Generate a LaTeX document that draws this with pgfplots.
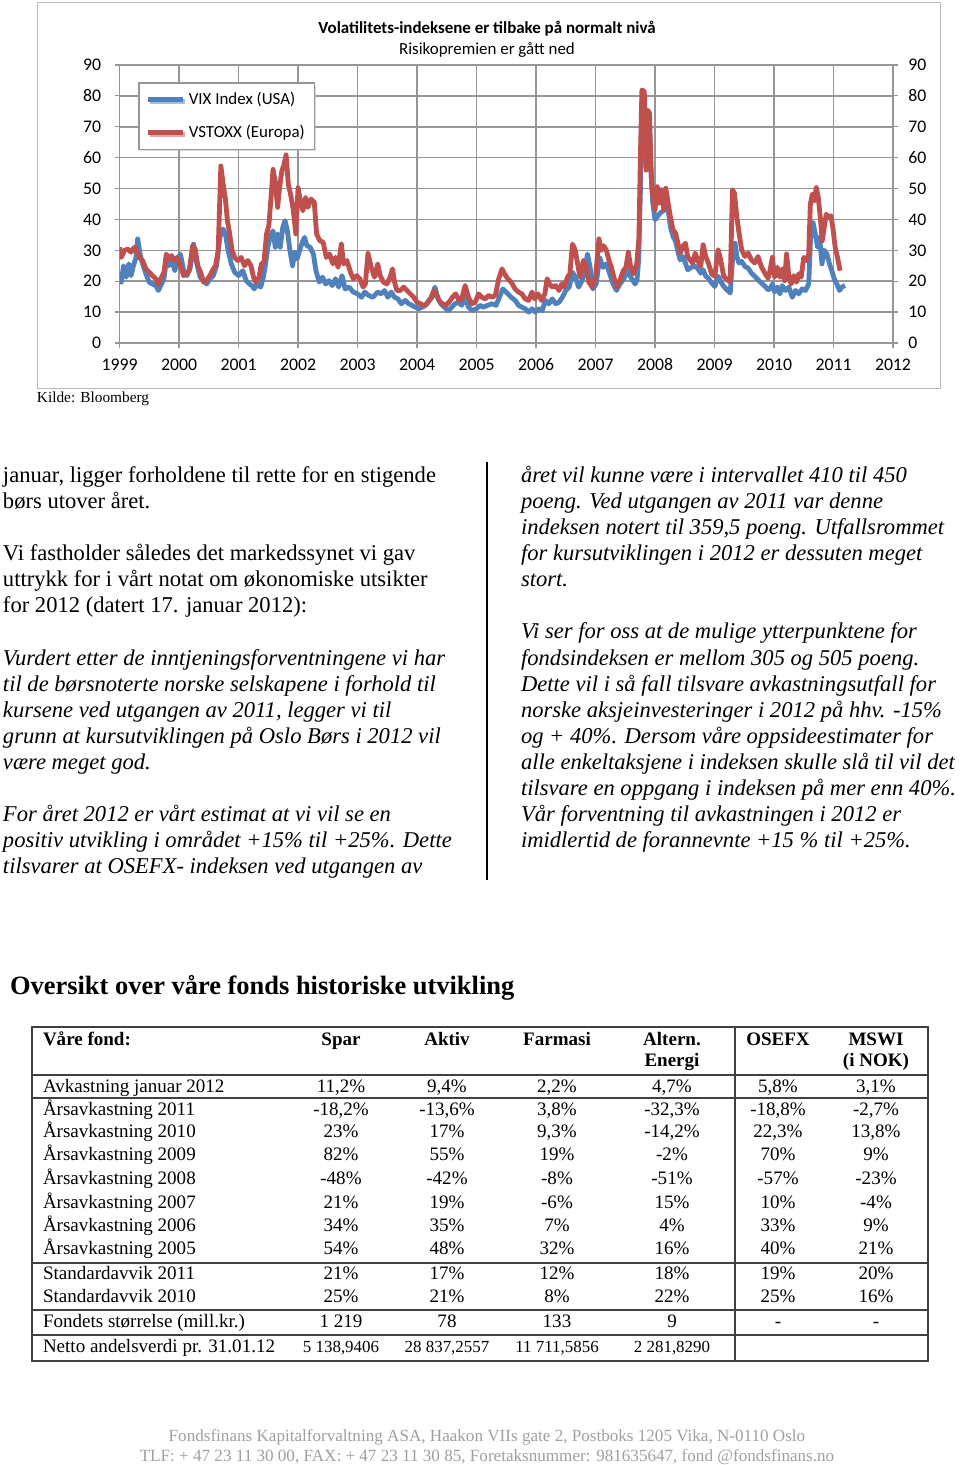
\documentclass[border=0pt]{standalone}
\usepackage{fontspec}
\setmainfont{Liberation Serif}
\newfontfamily\chartfont{Carlito}
\usepackage{pgfplots}
\pgfplotsset{compat=1.18}
\usepackage{pgfplotstable}
\usetikzlibrary{shadows}
\definecolor{vixblue}{HTML}{4F81BD}
\definecolor{vsred}{HTML}{C0504D}
\definecolor{gridgray}{HTML}{969696}

\pgfplotstableread{
x y
1999.000 22.4
1999.028 19.7
1999.066 25
1999.110 21.3
1999.155 25.6
1999.193 21.8
1999.232 25
1999.276 27.7
1999.304 33.7
1999.343 28.8
1999.387 25.6
1999.442 22.4
1999.497 19.7
1999.552 19.1
1999.608 18.6
1999.652 17
1999.691 18.6
1999.746 20.8
1999.785 26.7
1999.829 25
1999.873 27.2
1999.928 23.4
1999.967 26.7
2000.022 28.8
2000.077 23.4
2000.133 21.8
2000.188 24.5
2000.243 32
2000.298 25.6
2000.354 21.3
2000.409 20.2
2000.464 19.1
2000.519 20.8
2000.575 21.8
2000.630 25
2000.685 34.2
2000.740 36.9
2000.779 35.3
2000.823 30
2000.878 25.6
2000.934 22.9
2001.000 21.8
2001.072 23.4
2001.127 20.2
2001.182 19.1
2001.230 18.5
2001.262 17.5
2001.317 19.1
2001.372 18.1
2001.415 21.3
2001.454 25.6
2001.492 31
2001.536 34.7
2001.579 36.3
2001.617 31
2001.656 35.3
2001.699 31
2001.743 37.4
2001.781 39.6
2001.820 36.3
2001.863 30
2001.907 25
2001.945 29.4
2001.984 27.2
2002.027 30
2002.071 32.6
2002.109 34.2
2002.148 31.5
2002.202 31
2002.257 28.8
2002.301 23.4
2002.355 19.7
2002.410 21.3
2002.464 19.1
2002.519 20.2
2002.574 18.6
2002.628 20.8
2002.683 18.1
2002.738 21.8
2002.792 17.5
2002.858 18.1
2002.929 16.5
2003.000 15.9
2003.066 14.8
2003.120 16.5
2003.186 15.4
2003.257 14.8
2003.339 16.5
2003.396 15.9
2003.452 17
2003.509 14.8
2003.565 16.5
2003.622 14.8
2003.678 14.3
2003.735 12.7
2003.802 13.8
2003.859 12.7
2003.915 12.2
2003.972 11.6
2004.028 11.1
2004.085 11.6
2004.141 12.2
2004.198 13.8
2004.254 14.8
2004.300 18.1
2004.345 14.8
2004.401 12.7
2004.458 11.6
2004.525 10.5
2004.582 11.6
2004.638 12.7
2004.695 13.2
2004.751 12.2
2004.808 14.8
2004.864 11.6
2004.932 10.5
2005.000 11.1
2005.056 12.2
2005.113 11.6
2005.186 12.2
2005.260 12.7
2005.328 12.2
2005.384 14.8
2005.441 17.5
2005.497 16.5
2005.582 14.8
2005.648 13.8
2005.705 12.2
2005.761 11.6
2005.818 11.1
2005.875 10
2005.932 11.1
2005.989 10
2006.045 11.1
2006.102 10.5
2006.159 13.8
2006.216 12.7
2006.273 14.3
2006.330 12.7
2006.386 13.2
2006.443 14.8
2006.500 17
2006.557 18.1
2006.613 22.9
2006.659 21.3
2006.716 18.1
2006.773 20.2
2006.818 23.4
2006.864 28.8
2006.909 24.5
2006.955 17.5
2007.011 19.1
2007.068 27.7
2007.125 24.5
2007.182 25.6
2007.238 22.4
2007.295 19.1
2007.352 17
2007.409 19.1
2007.477 20.8
2007.534 23.4
2007.591 21.3
2007.665 19.1
2007.698 20.5
2007.725 26.9
2007.753 48.5
2007.780 78.7
2007.819 79.7
2007.852 56
2007.874 70
2007.907 70
2007.929 57.1
2007.962 45.3
2008.000 39.9
2008.038 40.9
2008.082 42
2008.126 42.6
2008.165 43.1
2008.220 43.1
2008.258 37.7
2008.302 34.5
2008.346 32.9
2008.385 29.6
2008.423 26.9
2008.467 28
2008.511 25.9
2008.549 23.7
2008.588 24.2
2008.632 24.8
2008.676 24.8
2008.714 24.2
2008.769 22.6
2008.808 23.7
2008.852 21.6
2008.896 21
2008.951 19.4
2009.005 18.3
2009.060 21.6
2009.104 19.9
2009.154 18.3
2009.209 17.2
2009.264 16.2
2009.302 26.9
2009.346 32.3
2009.374 28
2009.412 25.9
2009.456 26.4
2009.511 24.8
2009.566 24.2
2009.621 22.6
2009.676 21.6
2009.731 20.5
2009.786 19.4
2009.852 18.3
2009.900 17.2
2009.933 17.5
2009.972 19.1
2010.011 16.5
2010.056 18.1
2010.100 15.9
2010.139 18.6
2010.194 17
2010.250 18.1
2010.306 14.8
2010.361 17
2010.417 15.9
2010.472 17.5
2010.528 17
2010.583 19.1
2010.622 37.4
2010.656 39
2010.694 35.3
2010.733 31
2010.767 34.2
2010.806 25.6
2010.844 30
2010.889 28.8
2010.933 25.6
2010.972 23.4
2011.011 20.8
2011.056 19.1
2011.100 17
2011.139 18.1
2011.194 18.6
}\vix

\pgfplotstableread{
x y
1999.000 31
1999.028 27.7
1999.083 30
1999.138 30.4
1999.193 29.4
1999.249 31
1999.287 30
1999.331 27.7
1999.387 26.7
1999.442 24
1999.497 22.9
1999.552 21.8
1999.608 20.8
1999.652 19
1999.691 20.8
1999.746 22.9
1999.785 28.8
1999.829 27.2
1999.873 28.3
1999.912 26.7
1999.967 27.7
2000.022 25
2000.077 21.8
2000.116 22.4
2000.171 23.4
2000.227 31.5
2000.271 30.4
2000.315 25
2000.370 22.4
2000.409 19.7
2000.464 20.4
2000.519 21.8
2000.575 24
2000.613 25
2000.657 30
2000.702 57.3
2000.740 51.4
2000.779 46.6
2000.812 39.6
2000.851 35.3
2000.890 30
2000.934 27.7
2000.989 26.7
2001.044 27.7
2001.099 25
2001.155 26.7
2001.208 25
2001.251 21.3
2001.290 19.7
2001.344 21.3
2001.383 25.6
2001.426 26.1
2001.470 35.3
2001.508 38
2001.546 47.1
2001.579 56.2
2001.617 52
2001.656 43.9
2001.689 50.3
2001.727 55.7
2001.765 57.8
2001.798 60.9
2001.836 51.4
2001.874 48.2
2001.918 43.3
2001.962 35.3
2002.000 50.3
2002.038 46
2002.082 42.8
2002.126 47.1
2002.164 43.9
2002.219 46.6
2002.273 45.5
2002.311 35.3
2002.366 33.1
2002.421 32.6
2002.475 27.7
2002.530 28.8
2002.585 25.6
2002.628 27.7
2002.672 24.5
2002.727 32
2002.765 25.6
2002.820 26.7
2002.891 22.4
2002.929 20.8
2002.984 21.8
2003.038 20.8
2003.093 18.1
2003.131 19.1
2003.175 29
2003.230 24.5
2003.284 21.3
2003.339 25.6
2003.379 21.8
2003.435 19.7
2003.492 19.1
2003.548 21.3
2003.588 24
2003.622 19.7
2003.661 17
2003.718 17
2003.774 18.1
2003.831 17
2003.887 15.9
2003.944 14.8
2004.000 13.2
2004.056 12.7
2004.113 12.2
2004.169 12.7
2004.226 14.3
2004.282 17
2004.322 15.9
2004.367 13.8
2004.424 12.7
2004.480 12.2
2004.537 13.2
2004.593 14.8
2004.650 15.9
2004.706 13.8
2004.751 14.3
2004.808 18.6
2004.864 14.8
2004.921 12.7
2004.977 13.2
2005.034 15.9
2005.090 14.8
2005.147 14.3
2005.203 15.4
2005.260 14.8
2005.316 15.4
2005.373 20.8
2005.429 24
2005.469 22.4
2005.525 20.8
2005.582 19.7
2005.648 17.5
2005.705 16.5
2005.761 15.9
2005.818 14.3
2005.875 13.8
2005.932 16.5
2005.977 14.3
2006.034 15.9
2006.091 13.8
2006.148 15.9
2006.187 20.8
2006.227 19.1
2006.273 18.1
2006.330 18.6
2006.386 17
2006.432 19.1
2006.471 18.1
2006.528 21.3
2006.568 22.4
2006.613 32
2006.659 30
2006.699 25.6
2006.739 21.3
2006.795 26.7
2006.841 24.5
2006.886 19.7
2006.943 18.1
2007.000 21.3
2007.057 33.7
2007.097 30
2007.136 31.5
2007.182 30
2007.227 26.7
2007.267 24.5
2007.307 21.3
2007.364 18.1
2007.409 20.2
2007.466 23.4
2007.511 24.5
2007.551 29.4
2007.591 24.5
2007.636 22.4
2007.693 25.6
2007.730 34.2
2007.753 59
2007.780 81.9
2007.819 81.4
2007.835 70
2007.852 56
2007.874 75.4
2007.907 74.4
2007.929 59
2007.945 50.6
2007.973 46.3
2008.000 43.1
2008.038 50.6
2008.071 45.3
2008.110 49.6
2008.148 43.1
2008.181 50.1
2008.220 45.3
2008.258 40.9
2008.302 36.6
2008.346 35.6
2008.385 32.3
2008.423 29.1
2008.467 31.3
2008.511 32.3
2008.549 28
2008.588 26.9
2008.632 25.9
2008.676 29.1
2008.714 26.9
2008.769 24.8
2008.808 31.8
2008.852 28
2008.896 25.9
2008.951 22.4
2009.005 21.6
2009.060 30.2
2009.104 26.9
2009.154 21.6
2009.209 20.5
2009.264 19.9
2009.302 49.6
2009.335 48.5
2009.374 40.9
2009.412 35.6
2009.456 30.2
2009.511 28
2009.566 29.1
2009.621 26.9
2009.676 25.9
2009.731 28
2009.786 24.8
2009.852 22.4
2009.900 21
2009.933 23.4
2009.972 27.7
2010.011 21.3
2010.056 24.5
2010.100 21.3
2010.139 24
2010.178 20.2
2010.211 28.8
2010.250 21.3
2010.289 19.1
2010.333 21.8
2010.378 19.7
2010.417 22.4
2010.456 21.3
2010.500 27.7
2010.544 26.7
2010.583 28.8
2010.611 44.9
2010.644 48.2
2010.678 46
2010.711 50.3
2010.744 47.1
2010.778 40.6
2010.811 33.1
2010.844 37.4
2010.878 41.7
2010.917 40.6
2010.956 41.2
2010.989 37.4
2011.028 31
2011.067 27.7
2011.111 23.4
}\vstoxx

\newcommand\trow[8]{%
 \node[anchor=base west] at (43,#1) {#2};
 \node[anchor=base] at (341,#1) {#3};
 \node[anchor=base] at (447,#1) {#4};
 \node[anchor=base] at (557,#1) {#5};
 \node[anchor=base] at (672,#1) {#6};
 \node[anchor=base] at (778,#1) {#7};
 \node[anchor=base] at (876,#1) {#8};}

\newcommand\chartfs{\chartfont\fontsize{10.5}{12.5}\selectfont}
\newcommand\tickfs{\chartfont\fontsize{11}{13}\selectfont}

\begin{document}
\begin{tikzpicture}
\begin{scope}[x=0.62pt,y=-0.62pt, every node/.style={inner sep=0pt, outer sep=0pt}]
\path[use as bounding box] (0,0) rectangle (960,1465);
\draw[gray!55, line width=0.6pt] (37,2) rectangle (940,388);
\coordinate (psw) at (119.6,343);
\node[anchor=base, font=\chartfs\bfseries] at (487,33) {Volatilitets-indeksene er tilbake på normalt nivå};
\node[anchor=base, font=\chartfs] at (487,54) {Risikopremien er gått ned};
\node[anchor=base west, font=\fontsize{9.5}{11}\selectfont] at (37,402) {Kilde: Bloomberg};

% text columns
\draw[line width=0.8pt] (487,462) -- (487,880);
\begin{scope}[font=\fontsize{14}{16}\selectfont]
\node[anchor=base west] at (3,482) {januar, ligger forholdene til rette for en stigende};
\node[anchor=base west] at (3,508) {børs utover året.};
\node[anchor=base west] at (3,560) {Vi fastholder således det markedssynet vi gav};
\node[anchor=base west] at (3,586) {uttrykk for i vårt notat om økonomiske utsikter};
\node[anchor=base west] at (3,612) {for 2012 (datert 17. januar 2012):};
\end{scope}
\begin{scope}[font=\fontsize{14}{16}\selectfont\itshape]
\node[anchor=base west] at (3,665) {Vurdert etter de inntjeningsforventningene vi har};
\node[anchor=base west] at (3,691) {til de børsnoterte norske selskapene i forhold til};
\node[anchor=base west] at (3,717) {kursene ved utgangen av 2011, legger vi til};
\node[anchor=base west] at (3,743) {grunn at kursutviklingen på Oslo Børs i 2012 vil};
\node[anchor=base west] at (3,769) {være meget god.};
\node[anchor=base west] at (3,821) {For året 2012 er vårt estimat at vi vil se en};
\node[anchor=base west] at (3,847) {positiv utvikling i området +15\% til +25\%. Dette};
\node[anchor=base west] at (3,873) {tilsvarer at OSEFX- indeksen ved utgangen av};
\node[anchor=base west] at (521,482) {året vil kunne være i intervallet 410 til 450};
\node[anchor=base west] at (521,508) {poeng. Ved utgangen av 2011 var denne};
\node[anchor=base west] at (521,534) {indeksen notert til 359,5 poeng. Utfallsrommet};
\node[anchor=base west] at (521,560) {for kursutviklingen i 2012 er dessuten meget};
\node[anchor=base west] at (521,586) {stort.};
\node[anchor=base west] at (521,638) {Vi ser for oss at de mulige ytterpunktene for};
\node[anchor=base west] at (521,665) {fondsindeksen er mellom 305 og 505 poeng.};
\node[anchor=base west] at (521,691) {Dette vil i så fall tilsvare avkastningsutfall for};
\node[anchor=base west] at (521,717) {norske aksjeinvesteringer i 2012 på hhv. -15\%};
\node[anchor=base west] at (521,743) {og + 40\%. Dersom våre oppsideestimater for};
\node[anchor=base west] at (521,769) {alle enkeltaksjene i indeksen skulle slå til vil det};
\node[anchor=base west] at (521,795) {tilsvare en oppgang i indeksen på mer enn 40\%.};
\node[anchor=base west] at (521,821) {Vår forventning til avkastningen i 2012 er};
\node[anchor=base west] at (521,847) {imidlertid de forannevnte +15 \% til +25\%.};
\end{scope}

\node[anchor=base west, font=\fontsize{16.4}{19}\selectfont\bfseries] at (10,994) {Oversikt over våre fonds historiske utvikling};

% table
\begin{scope}[font=\fontsize{11.8}{13}\selectfont]
\draw[line width=1pt, black!75] (32,1027) rectangle (928,1361);
\draw[line width=1pt, black!75] (32,1075) -- (928,1075);
\draw[line width=1pt, black!75] (32,1098) -- (928,1098);
\draw[line width=1pt, black!75] (32,1263) -- (928,1263);
\draw[line width=1pt, black!75] (32,1310) -- (928,1310);
\draw[line width=1pt, black!75] (32,1335) -- (928,1335);
\draw[line width=1pt, black!75] (735,1027) -- (735,1361);
\begin{scope}[font=\fontsize{11.8}{13}\selectfont\bfseries]
\node[anchor=base west] at (43,1045) {Våre fond:};
\node[anchor=base] at (341,1045) {Spar};
\node[anchor=base] at (447,1045) {Aktiv};
\node[anchor=base] at (557,1045) {Farmasi};
\node[anchor=base] at (672,1045) {Altern.};
\node[anchor=base] at (672,1066) {Energi};
\node[anchor=base] at (778,1045) {OSEFX};
\node[anchor=base] at (876,1045) {MSWI};
\node[anchor=base] at (876,1066) {(i NOK)};
\end{scope}
\trow{1092}{Avkastning januar 2012}{11,2\%}{9,4\%}{2,2\%}{4,7\%}{5,8\%}{3,1\%}
\trow{1115}{Årsavkastning 2011}{-18,2\%}{-13,6\%}{3,8\%}{-32,3\%}{-18,8\%}{-2,7\%}
\trow{1137}{Årsavkastning 2010}{23\%}{17\%}{9,3\%}{-14,2\%}{22,3\%}{13,8\%}
\trow{1160}{Årsavkastning 2009}{82\%}{55\%}{19\%}{-2\%}{70\%}{9\%}
\trow{1184}{Årsavkastning 2008}{-48\%}{-42\%}{-8\%}{-51\%}{-57\%}{-23\%}
\trow{1208}{Årsavkastning 2007}{21\%}{19\%}{-6\%}{15\%}{10\%}{-4\%}
\trow{1231}{Årsavkastning 2006}{34\%}{35\%}{7\%}{4\%}{33\%}{9\%}
\trow{1254}{Årsavkastning 2005}{54\%}{48\%}{32\%}{16\%}{40\%}{21\%}
\trow{1279}{Standardavvik 2011}{21\%}{17\%}{12\%}{18\%}{19\%}{20\%}
\trow{1302}{Standardavvik 2010}{25\%}{21\%}{8\%}{22\%}{25\%}{16\%}
\trow{1327}{Fondets størrelse (mill.kr.)}{1 219}{78}{133}{9}{-}{-}
\node[anchor=base west] at (43,1352) {Netto andelsverdi pr. 31.01.12};
\begin{scope}[font=\fontsize{10.5}{12}\selectfont]
\node[anchor=base] at (341,1352) {5 138,9406};
\node[anchor=base] at (447,1352) {28 837,2557};
\node[anchor=base] at (557,1352) {11 711,5856};
\node[anchor=base] at (672,1352) {2 281,8290};
\end{scope}
\end{scope}

\begin{scope}[font=\fontsize{10.6}{12}\selectfont, text=gray!75]
\node[anchor=base] at (487,1441) {Fondsfinans Kapitalforvaltning ASA, Haakon VIIs gate 2, Postboks 1205 Vika, N-0110 Oslo};
\node[anchor=base] at (487,1461) {TLF: + 47 23 11 30 00, FAX: + 47 23 11 30 85, Foretaksnummer: 981635647, fond @fondsfinans.no};
\end{scope}
\end{scope}

\begin{axis}[at={(psw)}, anchor=south west,
  width=479.5pt, height=172.4pt, scale only axis,
  xmin=1999, xmax=2012, ymin=0, ymax=90,
  xtick={1999,2000,...,2012}, ytick={0,10,...,90},
  grid=major, major grid style={gridgray, line width=1pt},
  axis line style={gridgray, line width=1pt},
  tick style={gridgray, line width=0.8pt}, tick align=outside, major tick length=3pt,
  tick pos=left,
  /pgf/number format/assume math mode=true,
  ticklabel style={font=\tickfs},
  xticklabel style={/pgf/number format/1000 sep={}, yshift=-3pt, text height=7.5pt, text depth=0pt},
  yticklabel style={xshift=-5pt},
  legend style={at={(0.0238,0.939)}, anchor=north west, draw=gridgray, line width=1pt,
    fill=white, font=\chartfs, inner xsep=4pt, inner ysep=4pt, row sep=7pt,
    cells={anchor=west},
    drop shadow={shadow xshift=1.2pt, shadow yshift=-1.2pt, fill=gray!50}},
  legend image code/.code={\draw[#1, line width=3pt] (0pt,0pt) -- (22pt,0pt);},
]
\addplot[vixblue, line width=3pt, line join=round, no markers] table[x=x,y=y] {\vix};
\addlegendentry{VIX Index (USA)}
\addplot[vsred, line width=3pt, line join=round, no markers] table[x=x,y=y] {\vstoxx};
\addlegendentry{VSTOXX (Europa)}
\end{axis}

\begin{axis}[at={(psw)}, anchor=south west,
  width=479.5pt, height=172.4pt, scale only axis,
  xmin=1999, xmax=2012, ymin=0, ymax=90,
  axis x line=none, axis y line*=right, ytick={0,10,...,90},
  axis line style={gridgray, line width=1pt},
  tick style={gridgray, line width=0.8pt}, tick align=outside, major tick length=3pt,
  /pgf/number format/assume math mode=true,
  ticklabel style={font=\tickfs},
  yticklabel style={xshift=3pt},
]
\end{axis}
\end{tikzpicture}
\end{document}
